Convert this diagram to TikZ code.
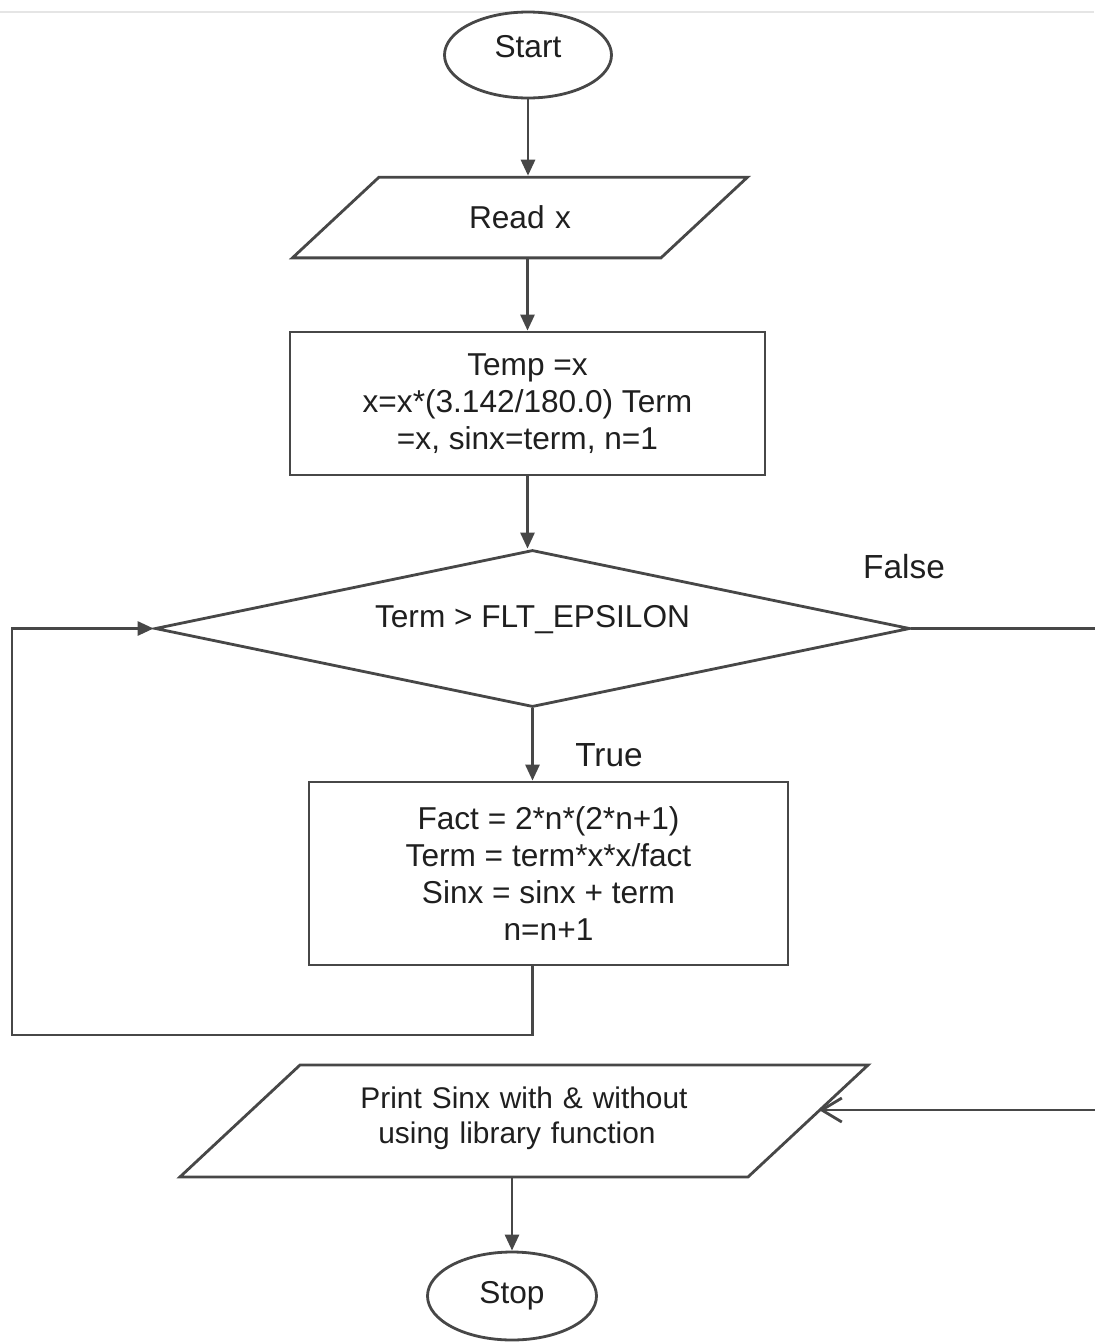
\documentclass[tikz,border=0pt]{standalone}
\usepackage{fontspec}
\setmainfont{Liberation Sans}
\usetikzlibrary{shapes.geometric,arrows.meta}

\tikzset{
  flowline/.style={draw=black!72,line width=0.8pt},
  terminal/.style={ellipse,flowline,inner sep=0pt},
  inout/.style={trapezium,trapezium left angle=43,trapezium right angle=137,
    flowline,inner xsep=0pt,align=center},
  process/.style={rectangle,flowline,inner sep=0pt,align=center},
  decision/.style={diamond,aspect=4.8,flowline,inner sep=0pt,align=center},
  arrow/.style={flowline,-{Triangle[length=1.6mm,width=1.4mm]}},
  openarrow/.style={flowline,-{Straight Barb[length=2mm,width=2.4mm]}},
  branch/.style={font=\fontsize{9.5pt}{11pt}\selectfont},
}

\begin{document}
\begin{tikzpicture}[x=0.1cm,y=-0.1cm,
    font=\fontsize{9pt}{10.5pt}\selectfont,text=black!88]
  \useasboundingbox (0,0) rectangle (109.4,134.4);
  % faint rule along the top edge
  \draw[black!10,line width=0.6pt] (0,1.2) -- (109.4,1.2);

  % blocks
  \node[terminal,minimum width=1.67cm,minimum height=0.86cm] (start) at (52.8,5.5) {\raisebox{1.7mm}{Start}};
  \node[inout,text width=2.82cm,text height=2.27mm,text depth=0mm,inner ysep=2.9mm] (read) at (52,21.75) {Read x};
  \node[process,minimum width=4.75cm,minimum height=1.43cm] (init) at (52.75,40.35)
    {Temp =x\\ x=x*(3.142/180.0) Term\\ =x, sinx=term, n=1};
  \node[decision,minimum width=7.55cm,minimum height=1.57cm] (test) at (53.25,62.85)
    {\raisebox{2.4mm}{Term > FLT\_EPSILON}};
  \node[process,minimum width=4.79cm,minimum height=1.83cm] (update) at (54.85,87.35)
    {Fact = 2*n*(2*n+1)\\ Term = term*x*x/fact\\ Sinx = sinx + term\\ n=n+1};
  \node[inout,text width=4.48cm,text height=3mm,text depth=5.6mm,inner ysep=1.3mm,
    font=\fontsize{8.5pt}{10.2pt}\selectfont] (print) at (52.4,112.1)
    {Print Sinx with \& without\\ using library function\hspace*{1.4mm}};
  \node[terminal,minimum width=1.69cm,minimum height=0.88cm] (stop) at (51.2,129.6) {Stop};

  % branch labels
  \node[branch] (flabel) at (90.4,56.7) {False};
  \node[branch] (tlabel) at (60.9,75.5) {True};

  % corners of the two return lines
  \coordinate (loopend) at (1.2,103.5);
  \coordinate (fcorner) at (110.5,62.85);
  \coordinate (printin) at ([xshift=0.9mm,yshift=1.1mm]print.east);

  % connectors
  \draw[arrow] (start.south) -- (start.south |- read.north);
  \draw[arrow] (init.north |- read.south) -- (init.north);
  \draw[arrow] (init.south) -- (init.south |- test.north);
  \draw[arrow] (test.south) -- (test.south |- update.north);
  \draw[arrow] (test.south |- update.south) -- (test.south |- loopend)
    -- (loopend) |- (test.west);
  \draw[openarrow] (test.east) -- (fcorner) |- (printin);
  \draw[arrow] (stop.north |- print.south) -- (stop.north);
\end{tikzpicture}
\end{document}
